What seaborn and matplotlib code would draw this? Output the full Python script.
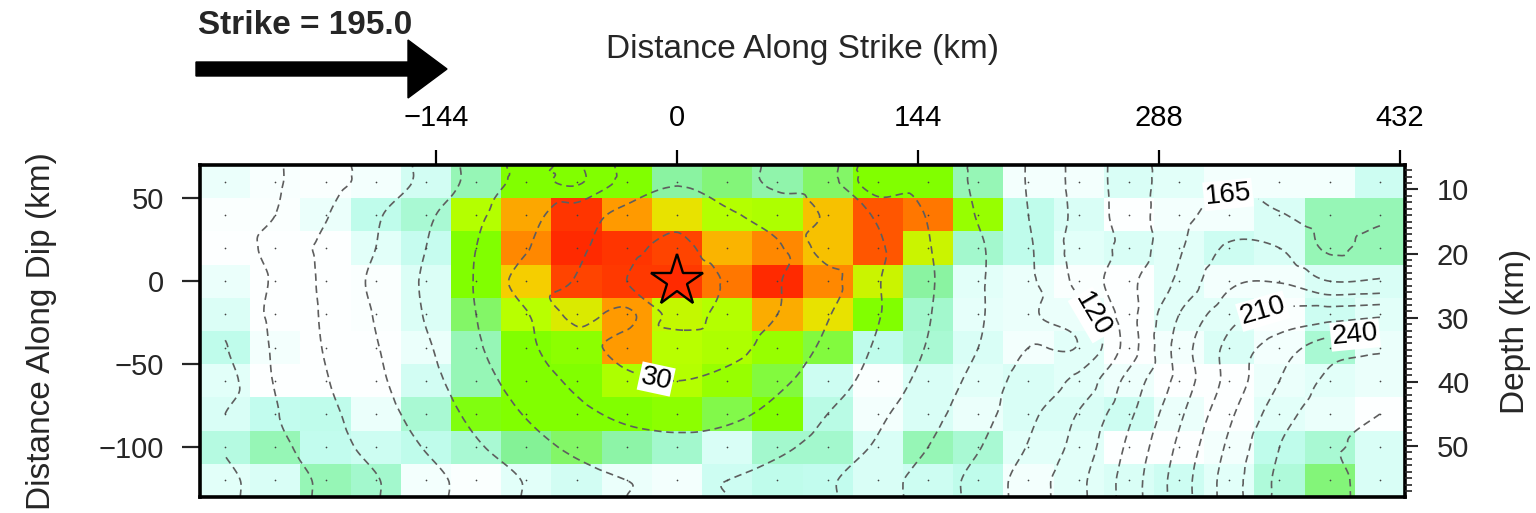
import numpy as np
import pandas as pd
import matplotlib
matplotlib.use("Agg")
import matplotlib.pyplot as plt
import matplotlib.tri as mtri
from matplotlib.colors import LinearSegmentedColormap
from matplotlib.patches import FancyArrow
from matplotlib.ticker import FixedLocator, MultipleLocator
import seaborn as sns

# ---------------------------------------------------------------- data
# subfault centres (km) along strike and along dip (top row first)
along_strike = [-270, -240, -210, -180, -150, -120, -90, -60, -30, 0, 30, 60,
                90, 120, 150, 180, 210, 240, 270, 300, 330, 360, 390, 420]
along_dip = [60, 40, 20, 0, -20, -40, -60, -80, -100, -120]

# slip per subfault (m), rows follow along_dip
slip = [
    [0.8, 0.3, 0.2, 0.5, 1.6, 3.4, 5.0, 5.0, 5.0, 3.8, 4.2, 3.6, 4.3, 5.0, 5.0, 3.4, 0.5, 0.5, 1.4, 1.1, 0.5, 0.5, 0.5, 1.7],
    [0.2, 0.2, 0.8, 2.1, 2.8, 5.9, 7.8, 9.8, 8.0, 6.8, 5.9, 5.8, 7.4, 9.2, 8.6, 5.4, 2.1, 1.4, 0.1, 0.5, 0.5, 1.4, 3.4, 3.4],
    [0.1, 0.1, 0.1, 1.1, 1.9, 5.0, 8.3, 10.0, 9.8, 9.5, 7.6, 8.3, 7.4, 9.2, 6.3, 3.0, 2.1, 1.1, 1.4, 1.1, 1.7, 1.4, 3.4, 3.4],
    [0.8, 0.1, 0.1, 0.2, 1.3, 5.0, 7.2, 9.5, 9.7, 9.7, 8.6, 10.0, 8.3, 6.3, 3.8, 1.1, 0.8, 0.2, 0.1, 1.1, 0.5, 0.5, 1.4, 1.4],
    [1.3, 0.1, 0.1, 0.2, 1.3, 4.3, 6.0, 6.6, 8.0, 6.2, 5.9, 7.7, 6.8, 5.0, 3.0, 1.0, 0.8, 0.8, 0.1, 1.1, 1.1, 0.2, 1.7, 1.1],
    [2.1, 0.5, 0.1, 0.1, 0.8, 3.4, 5.0, 5.2, 8.0, 6.0, 5.8, 5.4, 4.6, 2.1, 2.8, 1.4, 0.5, 1.1, 0.1, 0.5, 1.4, 0.5, 2.8, 0.8],
    [1.1, 0.1, 0.1, 0.1, 1.6, 3.4, 5.0, 5.0, 5.8, 5.9, 5.4, 4.6, 1.7, 0.2, 1.4, 1.1, 1.4, 1.1, 0.7, 0.1, 0.1, 0.8, 1.1, 0.8],
    [1.4, 2.0, 2.1, 0.8, 2.8, 4.9, 5.0, 5.0, 5.0, 5.2, 4.5, 5.0, 2.3, 0.5, 1.4, 0.8, 1.4, 1.4, 1.7, 0.8, 0.1, 1.1, 0.8, 0.1],
    [2.4, 3.4, 2.0, 1.7, 2.1, 2.8, 4.0, 4.3, 3.7, 3.0, 1.4, 3.0, 3.0, 1.4, 3.4, 2.8, 1.1, 1.1, 0.1, 0.1, 0.5, 2.1, 2.8, 1.4],
    [1.1, 1.4, 3.4, 3.0, 0.5, 0.2, 1.1, 1.6, 0.8, 0.5, 1.7, 2.1, 2.0, 1.4, 1.7, 2.1, 0.5, 1.1, 1.4, 1.7, 1.1, 2.6, 4.2, 1.4],
]

# rupture onset time per subfault (s), rows follow along_dip
rupture_time = [
    [134, 122, 110, 100, 86, 70, 56, 62, 40, 31, 38, 48, 54, 86, 80, 93, 106, 125, 142, 158, 163, 160, 156, 158],
    [132, 120, 106, 92, 78, 63, 50, 37, 26, 20, 28, 36, 47, 62, 76, 91, 105, 124, 142, 160, 170, 166, 158, 162],
    [133, 114, 102, 90, 75, 60, 46, 33, 21, 10, 27, 28, 52, 58, 74, 88, 103, 126, 140, 163, 182, 180, 163, 172],
    [131, 118, 102, 87, 73, 59, 38, 29, 15, 0, 17, 29, 40, 59, 73, 88, 102, 124, 146, 168, 192, 194, 180, 182],
    [130, 117, 103, 89, 74, 60, 46, 26, 33, 10, 20, 30, 44, 59, 74, 88, 103, 113, 144, 180, 204, 214, 218, 222],
    [136, 118, 104, 91, 77, 62, 48, 36, 25, 22, 25, 36, 48, 62, 76, 90, 105, 106, 142, 186, 214, 232, 248, 252],
    [141, 119, 106, 93, 80, 66, 53, 42, 33, 30, 34, 42, 53, 66, 80, 95, 112, 124, 155, 185, 215, 240, 258, 262],
    [135, 121, 109, 96, 84, 71, 59, 49, 42, 40, 42, 49, 60, 72, 85, 99, 116, 136, 162, 192, 222, 248, 264, 270],
    [134, 124, 112, 100, 89, 77, 66, 57, 51, 49, 51, 57, 66, 77, 90, 104, 121, 141, 168, 198, 228, 255, 268, 272],
    [138, 128, 117, 106, 95, 84, 74, 65, 60, 59, 60, 65, 73, 84, 96, 110, 127, 146, 172, 202, 232, 258, 266, 276],
]

strike_deg = 195.0
dip_deg = 15.0
hypo_depth_km = 24.3
hypocenter = (0.0, 0.0)
cell_strike_km = 30.0
cell_dip_km = 20.0

strike_ticks = [-144, 0, 144, 288, 432]
dip_ticks = [-100, -50, 0, 50]
depth_ticks = [10, 20, 30, 40, 50]
all_times = list(range(15, 285, 15))
labelled_times = [30, 120, 165, 210, 240]
label_spots = [(-13, -62), (246, -21), (329, 54), (350, -18), (405, -29)]

# ---------------------------------------------------------------- style
sns.set_style("white")
plt.rcParams["font.family"] = ["Liberation Sans", "DejaVu Sans"]

slip_cmap = LinearSegmentedColormap.from_list(
    "slip",
    [(0.0, "#ffffff"), (0.1, "#e6fffa"), (0.2, "#c2fcee"), (0.3, "#a2f8cc"),
     (0.4, "#84f296"), (0.5, "#80ff00"), (0.6, "#b8ff00"), (0.7, "#f2dc00"),
     (0.8, "#ff9a00"), (0.9, "#ff6200"), (1.0, "#ff2a00")])

W, H = 1536, 513
fig = plt.figure(figsize=(W / 100, H / 100), dpi=100)
box = [200 / W, 1 - 497 / H, 1205 / W, 332 / H]

# slip patches
ax = fig.add_axes(box)
slip_df = pd.DataFrame(slip, index=along_dip, columns=along_strike)
sns.heatmap(slip_df, ax=ax, cmap=slip_cmap, vmin=0, vmax=10, cbar=False,
            xticklabels=False, yticklabels=False)
ax.set_xlabel("")
ax.set_ylabel("")
ax.tick_params(length=0)

# km overlay for contours, markers and axes
axk = fig.add_axes(box, facecolor="none")
x_lo = min(along_strike) - cell_strike_km / 2
x_hi = max(along_strike) + cell_strike_km / 2
y_lo = min(along_dip) - cell_dip_km / 2
y_hi = max(along_dip) + cell_dip_km / 2
axk.set_xlim(x_lo, x_hi)
axk.set_ylim(y_lo, y_hi)

# rupture-time contours, with the edge rows held out to the fault edges
T = np.array(rupture_time, dtype=float)
T_pad = np.vstack([T[:1], T, T[-1:]])
y_pad = [y_hi] + along_dip + [y_lo]
XP, YP = np.meshgrid(along_strike, y_pad)
tri = mtri.Triangulation(XP.ravel(), YP.ravel())
interp = mtri.CubicTriInterpolator(tri, T_pad.ravel(), kind="geom")
xf = np.linspace(min(along_strike), max(along_strike), 460)
yf = np.linspace(y_lo, y_hi, 200)
XF, YF = np.meshgrid(xf, yf)
TF = interp(XF, YF)

dash = [(0, (4.5, 2.8))]
line_kw = dict(colors="#5e5e5e", linewidths=1.2, linestyles=dash)
plain_times = [t for t in all_times if t not in labelled_times]
axk.contour(XF, YF, TF, levels=plain_times, **line_kw)
cs_lab = axk.contour(XF, YF, TF, levels=labelled_times, **line_kw)
labels = axk.clabel(cs_lab, manual=label_spots, inline=True, inline_spacing=8,
                    fmt="%d", fontsize=20, colors="black")
for t in labels:
    t.set_bbox(dict(facecolor="white", edgecolor="none", pad=1.0))

X, Y = np.meshgrid(along_strike, along_dip)
axk.scatter(X.ravel(), Y.ravel(), s=1.5, color="#444444", linewidths=0, zorder=3)
axk.plot(*hypocenter, marker="*", ms=39, mfc="#ff2a00", mec="black",
         mew=1.7, zorder=5)

for sp in axk.spines.values():
    sp.set_visible(True)
    sp.set_linewidth(2.6)
    sp.set_color("black")
for sp in ax.spines.values():
    sp.set_visible(False)

axk.xaxis.tick_top()
axk.xaxis.set_label_position("top")
axk.set_xticks(strike_ticks)
axk.set_xticklabels([f"{v:d}".replace("-", "\u2212") for v in strike_ticks])
axk.set_yticks(dip_ticks)
axk.set_yticklabels([f"{v:d}".replace("-", "\u2212") for v in dip_ticks])
axk.tick_params(axis="x", direction="out", length=11, width=1.6, pad=13,
                labelsize=21, top=True, bottom=False, colors="black")
axk.tick_params(axis="y", direction="out", length=13, width=1.6, pad=13,
                labelsize=21, left=True, right=False)
axk.set_xlabel("Distance Along Strike (km)", fontsize=24, labelpad=33)
axk.set_ylabel("Distance Along Dip (km)", fontsize=24, labelpad=30)

# depth scale on the right
axd = axk.twinx()
sin_dip = np.sin(np.radians(dip_deg))
axd.set_ylim(hypo_depth_km - y_lo * sin_dip, hypo_depth_km - y_hi * sin_dip)
axd.yaxis.set_major_locator(FixedLocator(depth_ticks))
axd.yaxis.set_minor_locator(MultipleLocator(1))
axd.tick_params(axis="y", which="major", direction="out", length=9, width=1.5,
                pad=14, labelsize=21)
axd.tick_params(axis="y", which="minor", direction="out", length=5, width=1.2)
axd.set_ylabel("Depth (km)", fontsize=24, labelpad=22)
for sp in axd.spines.values():
    sp.set_visible(False)

# strike direction arrow
fig.add_artist(FancyArrow(196 / W, 1 - 69 / H, 251 / W, 0, width=14 / H,
                          head_width=58 / H, head_length=39 / W,
                          length_includes_head=True, color="black",
                          transform=fig.transFigure))
fig.text(198 / W, 1 - 25 / H, f"Strike = {strike_deg:.1f}", fontsize=24,
         fontweight="bold", va="center", ha="left")

fig.savefig("out.png", dpi=100)
